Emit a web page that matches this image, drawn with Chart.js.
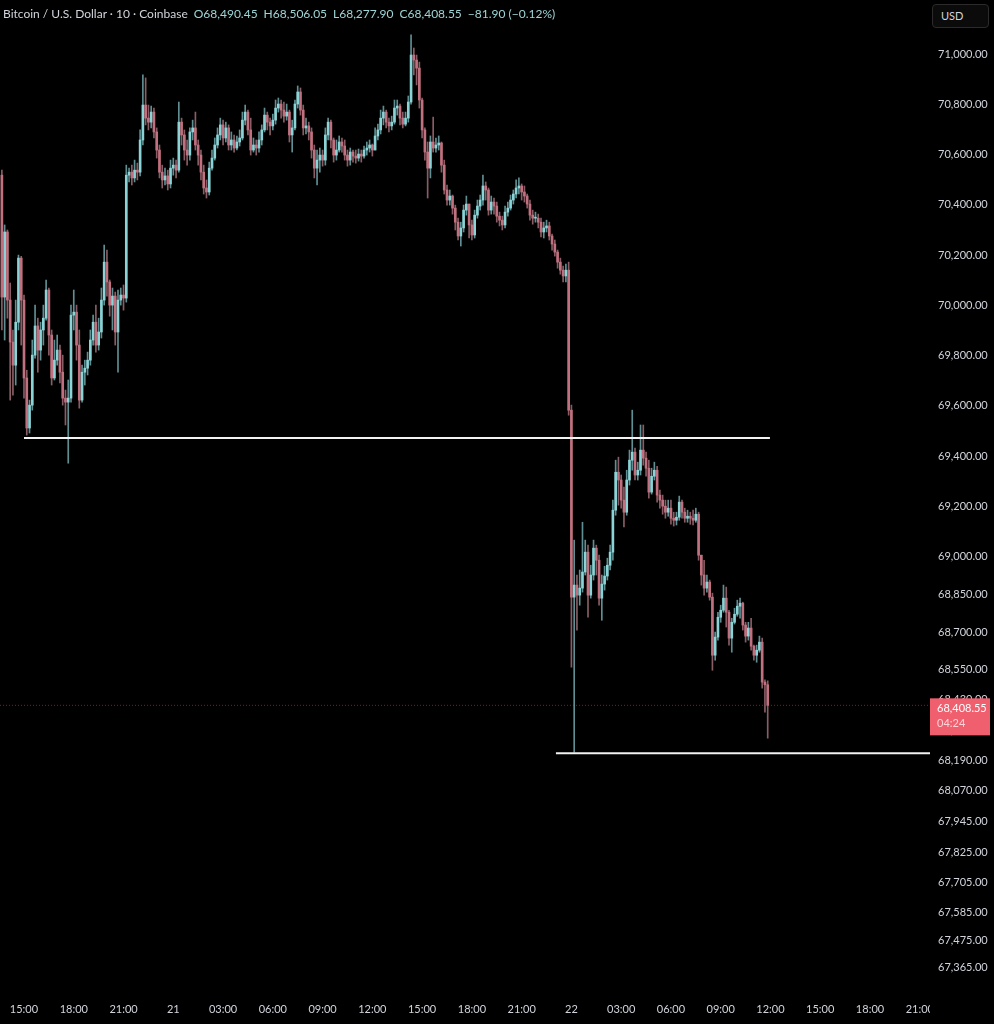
<!DOCTYPE html>
<html>
<head>
<meta charset="utf-8">
<title>BTCUSD 10m</title>
<script src="https://cdn.jsdelivr.net/npm/chart.js@4.4.1/dist/chart.umd.min.js"></script>
<style>
  html, body { margin: 0; padding: 0; background: #000; }
  #wrap { position: relative; width: 994px; height: 1024px; overflow: hidden; }
  canvas { display: block; }
  .hdr { position: absolute; top: 6px; left: 3px; display: flex; gap: 6px; font: 12px Lato, sans-serif;
         white-space: nowrap; color: #d1d4dc; }
  .hdr .v { color: #9fd4d6; }
  .usd { position: absolute; left: 932px; top: 4px; width: 57px; height: 24px; box-sizing: border-box;
         border: 1px solid #2b2b2b; border-radius: 4px; background: #0b0b0b; color: #d1d4dc;
         font: 11px Lato, sans-serif; line-height: 22px; padding-left: 8px; }
</style>
</head>
<body>
<div id="wrap">
  <canvas id="chart" width="994" height="1024"></canvas>
  <div class="hdr">
    <span>Bitcoin / U.S. Dollar · 10 · Coinbase</span>
    <span class="v">O68,490.45</span>
    <span class="v">H68,506.05</span>
    <span class="v">L68,277.90</span>
    <span class="v">C68,408.55</span>
    <span class="v">−81.90 (−0.12%)</span>
  </div>
  <div class="usd">USD</div>
</div>
<script>
// --- DATA | 10 min candles, 20th 13:40 -> 22nd 11:50 --- //
const firstOpen = 70518;

const closes = [
  70033, 70292, 70021, 69854, 69762, 69933, 70188, 70021, 69711, 69512,
  69603, 69802, 69918, 69822, 69902, 69949, 70061, 69882, 69711, 69782,
  69822, 69734, 69631, 69615, 69631, 69961, 69973, 69842, 69623, 69734,
  69750, 69782, 69862, 69933, 69842, 69894, 70021, 70172, 70093, 70001,
  70037, 69894, 70021, 70041, 70029, 70518, 70530, 70507, 70538, 70530,
  70658, 70797, 70745, 70729, 70769, 70690, 70618, 70530, 70499, 70515,
  70483, 70546, 70558, 70538, 70729, 70678, 70618, 70598, 70690, 70706,
  70638, 70598, 70530, 70467, 70451, 70546, 70586, 70638, 70678, 70718,
  70666, 70706, 70638, 70658, 70626, 70650, 70666, 70737, 70769, 70698,
  70618, 70638, 70626, 70658, 70698, 70757, 70729, 70714, 70737, 70785,
  70801, 70777, 70753, 70769, 70678, 70706, 70801, 70849, 70777, 70706,
  70714, 70690, 70618, 70546, 70578, 70598, 70578, 70678, 70729, 70658,
  70598, 70618, 70650, 70634, 70598, 70578, 70610, 70594, 70586, 70602,
  70594, 70618, 70626, 70638, 70618, 70674, 70698, 70745, 70769, 70729,
  70714, 70729, 70785, 70793, 70745, 70721, 70745, 70809, 70996, 70976,
  70944, 70817, 70698, 70610, 70546, 70650, 70626, 70638, 70646, 70558,
  70459, 70419, 70435, 70387, 70331, 70276, 70308, 70379, 70403, 70320,
  70280, 70359, 70395, 70419, 70475, 70459, 70379, 70411, 70395, 70355,
  70339, 70320, 70371, 70387, 70419, 70443, 70467, 70475, 70451, 70435,
  70403, 70359, 70347, 70347, 70331, 70292, 70308, 70316, 70276, 70244,
  70212, 70172, 70140, 70117, 70140, 69583, 68839, 68887, 68847, 68875,
  68939, 69018, 68847, 68927, 69034, 68986, 68835, 68891, 68923, 68966,
  69018, 69185, 69336, 69305, 69225, 69177, 69305, 69384, 69416, 69325,
  69344, 69424, 69392, 69352, 69257, 69320, 69344, 69245, 69225, 69201,
  69177, 69193, 69153, 69145, 69157, 69217, 69177, 69153, 69161, 69153,
  69145, 69169, 69006, 68927, 68875, 68899, 68839, 68608, 68680, 68759,
  68787, 68835, 68779, 68676, 68739, 68771, 68803, 68815, 68728, 68684,
  68716, 68644, 68608, 68628, 68660, 68501, 68490.45, 68408.55
];

const highs = [
  70538, 70320, 70300, 70089, 69902, 70021, 70200, 70195, 70041, 69742,
  69623, 69862, 70001, 69949, 69933, 70001, 70101, 70069, 69902, 69862,
  69882, 69842, 69802, 69663, 69703, 70001, 70061, 70001, 69902, 69762,
  69782, 69814, 69902, 69961, 70001, 69949, 70069, 70240, 70220, 70101,
  70069, 70053, 70061, 70069, 70081, 70558, 70546, 70558, 70578, 70566,
  70698, 70917, 70905, 70797, 70793, 70785, 70706, 70638, 70558, 70546,
  70538, 70578, 70586, 70578, 70809, 70745, 70698, 70658, 70706, 70737,
  70769, 70658, 70618, 70558, 70499, 70570, 70618, 70666, 70706, 70745,
  70737, 70729, 70718, 70690, 70678, 70674, 70698, 70769, 70797, 70777,
  70745, 70666, 70658, 70690, 70718, 70785, 70769, 70745, 70761, 70817,
  70825, 70817, 70809, 70801, 70777, 70737, 70817, 70873, 70865, 70797,
  70745, 70729, 70706, 70638, 70618, 70626, 70618, 70706, 70745, 70737,
  70666, 70658, 70674, 70666, 70658, 70618, 70626, 70618, 70618, 70622,
  70618, 70634, 70650, 70658, 70642, 70706, 70721, 70777, 70793, 70777,
  70745, 70753, 70817, 70817, 70801, 70769, 70769, 70833, 71076, 71024,
  70996, 70968, 70825, 70706, 70650, 70674, 70749, 70666, 70674, 70650,
  70578, 70479, 70459, 70439, 70399, 70347, 70331, 70399, 70435, 70399,
  70339, 70379, 70419, 70439, 70518, 70491, 70467, 70435, 70427, 70411,
  70371, 70355, 70395, 70411, 70439, 70459, 70499, 70507, 70483, 70475,
  70443, 70419, 70379, 70371, 70363, 70347, 70331, 70339, 70331, 70284,
  70260, 70220, 70188, 70156, 70164, 70172, 69603, 69066, 68927, 68947,
  69137, 69066, 69046, 68966, 69066, 69046, 69006, 68927, 68962, 68994,
  69046, 69225, 69384, 69396, 69325, 69277, 69344, 69424, 69583, 69432,
  69376, 69524, 69524, 69416, 69384, 69352, 69376, 69360, 69265, 69245,
  69225, 69225, 69225, 69177, 69177, 69241, 69225, 69193, 69185, 69177,
  69185, 69193, 69177, 69006, 68986, 68927, 68907, 68855, 68700, 68779,
  68807, 68887, 68879, 68787, 68755, 68795, 68827, 68835, 68819, 68739,
  68739, 68755, 68648, 68648, 68684, 68676, 68510, 68506.05
];

const lows = [
  69902, 69862, 69949, 69623, 69643, 69683, 69902, 69842, 69631, 69484,
  69492, 69583, 69790, 69734, 69782, 69842, 69941, 69802, 69683, 69703,
  69762, 69691, 69603, 69524, 69372, 69615, 69902, 69782, 69591, 69615,
  69683, 69723, 69762, 69842, 69814, 69822, 69870, 70001, 70037, 69957,
  69902, 69842, 69734, 70001, 69981, 70013, 70491, 70479, 70491, 70499,
  70515, 70638, 70718, 70698, 70706, 70666, 70586, 70507, 70467, 70479,
  70459, 70467, 70518, 70507, 70530, 70638, 70578, 70558, 70578, 70658,
  70618, 70558, 70499, 70443, 70427, 70439, 70538, 70578, 70626, 70658,
  70638, 70650, 70618, 70618, 70610, 70618, 70634, 70658, 70718, 70678,
  70598, 70610, 70598, 70610, 70638, 70690, 70698, 70678, 70698, 70721,
  70769, 70745, 70729, 70737, 70650, 70610, 70698, 70785, 70757, 70678,
  70682, 70658, 70586, 70507, 70479, 70530, 70554, 70558, 70658, 70626,
  70570, 70578, 70610, 70610, 70578, 70554, 70558, 70570, 70566, 70574,
  70570, 70586, 70598, 70610, 70594, 70618, 70658, 70682, 70718, 70706,
  70690, 70698, 70721, 70757, 70718, 70706, 70714, 70729, 70801, 70917,
  70877, 70785, 70666, 70578, 70427, 70507, 70610, 70610, 70618, 70530,
  70443, 70399, 70399, 70363, 70300, 70260, 70236, 70292, 70359, 70268,
  70260, 70268, 70347, 70379, 70399, 70419, 70359, 70363, 70363, 70331,
  70316, 70300, 70308, 70355, 70379, 70403, 70427, 70443, 70419, 70411,
  70387, 70339, 70323, 70331, 70308, 70272, 70268, 70292, 70260, 70220,
  70196, 70148, 70124, 70093, 70093, 69563, 68560, 68222, 68708, 68807,
  68859, 68927, 68759, 68835, 68907, 68927, 68807, 68747, 68867, 68907,
  68947, 68986, 69165, 69205, 69193, 69118, 69165, 69285, 69344, 69305,
  69305, 69325, 69364, 69320, 69233, 69249, 69305, 69217, 69193, 69169,
  69153, 69161, 69129, 69122, 69126, 69145, 69153, 69137, 69137, 69129,
  69126, 69137, 68986, 68887, 68847, 68859, 68827, 68548, 68588, 68668,
  68739, 68779, 68720, 68648, 68620, 68732, 68763, 68755, 68708, 68660,
  68668, 68628, 68588, 68580, 68620, 68477, 68381, 68277.90
];

// horizontal levels drawn on the chart (price, first candle, last candle)
const levelPrices = [69472, 68218];
const levelFrom = [8, 200.4];
const levelTo = [277.8, 335.7];

// price scale labels and time scale labels
const yTicks = [71000, 70800, 70600, 70400, 70200, 70000, 69800, 69600, 69400, 69200, 69000,
  68850, 68700, 68550, 68430, 68310, 68190, 68070, 67945, 67825, 67705, 67585, 67475, 67365];
const xTickLabels = ['15:00', '18:00', '21:00', '21', '03:00', '06:00', '09:00', '12:00', '15:00',
  '18:00', '21:00', '22', '03:00', '06:00', '09:00', '12:00', '15:00', '18:00', '21:00'];
const firstTickCandle = 8;   // 15:00 on the 20th
const candlesPerTick = 18;   // 3 hours of 10 min candles
const countdown = '04:24';

// --- BUILD CANDLES --- //
const opens = closes.map((c, i) => (i === 0 ? firstOpen : closes[i - 1]));
const isUp = closes.map((c, i) => c >= opens[i]);

const bodyData = closes.map((c, i) => ({ x: i, y: [opens[i], c] }));
const wickData = closes.map((c, i) => ({
  x: i,
  y: [Math.min(lows[i], opens[i], c), Math.max(highs[i], opens[i], c)]
}));

const upColor = '#8ad3d6';
const downColor = '#c0707e';
const upWick = '#5f8f93';
const downWick = '#8a5d66';

const xMin = -0.68;
const xMax = 335.7;
const lastClose = closes[closes.length - 1];
const fmt = v => v.toLocaleString('en-US', { minimumFractionDigits: 2, maximumFractionDigits: 2 });
const axisFont = { family: 'Lato', size: 11 };

const levelSets = levelPrices.map((p, k) => ({
  type: 'line',
  data: [{ x: levelFrom[k], y: p }, { x: levelTo[k], y: p }],
  borderColor: '#f2f2f2',
  borderWidth: 2,
  pointRadius: 0,
  order: 0
}));

// --- PRICE TAG | RIGHT SCALE --- //
const priceTag = {
  id: 'priceTag',
  afterDraw(chart) {
    const { ctx, chartArea, scales } = chart;
    const y = scales.y.getPixelForValue(lastClose);
    ctx.save();
    // hide the time label that runs under the price scale
    ctx.fillStyle = '#000';
    ctx.fillRect(chartArea.right, chartArea.bottom, chart.width - chartArea.right, chart.height - chartArea.bottom);
    ctx.fillStyle = '#ef5f6e';
    ctx.fillRect(chartArea.right, y - 7, 60, 37);
    ctx.font = '11px Lato';
    ctx.textBaseline = 'middle';
    ctx.fillStyle = '#ffffff';
    ctx.fillText(fmt(lastClose), chartArea.right + 7, y + 3);
    ctx.fillStyle = '#ffd2d7';
    ctx.fillText(countdown, chartArea.right + 7, y + 18);
    ctx.restore();
  }
};

// axis sizes fixed so the plot fills the canvas like the trading view
const noPad = axis => {
  axis.paddingTop = 0;
  axis.paddingBottom = 0;
  axis.paddingLeft = 0;
  axis.paddingRight = 0;
};

new Chart(document.getElementById('chart'), {
  type: 'bar',
  data: {
    datasets: [
      ...levelSets,
      {
        type: 'line',
        data: [{ x: xMin, y: lastClose }, { x: xMax, y: lastClose }],
        borderColor: '#6a2630',
        borderWidth: 1,
        borderDash: [1, 2],
        pointRadius: 0,
        order: 3
      },
      {
        label: 'body',
        data: bodyData,
        backgroundColor: isUp.map(u => (u ? upColor : downColor)),
        barThickness: 2,
        minBarLength: 1,
        grouped: false,
        order: 1
      },
      {
        label: 'wick',
        data: wickData,
        backgroundColor: isUp.map(u => (u ? upWick : downWick)),
        barThickness: 1,
        grouped: false,
        order: 2
      }
    ]
  },
  options: {
    responsive: false,
    animation: false,
    events: [],
    layout: { padding: 0 },
    plugins: { legend: { display: false }, tooltip: { enabled: false } },
    scales: {
      x: {
        type: 'linear',
        min: xMin,
        max: xMax,
        offset: false,
        grid: { display: false, drawTicks: false },
        border: { display: false },
        afterBuildTicks: axis => {
          axis.ticks = xTickLabels.map((_, k) => ({ value: firstTickCandle + k * candlesPerTick }));
        },
        afterFit: axis => { axis.height = 29; noPad(axis); },
        ticks: {
          autoSkip: false,
          maxRotation: 0,
          padding: 8,
          color: '#d1d4dc',
          font: axisFont,
          callback: (v, i) => xTickLabels[i]
        }
      },
      y: {
        type: 'linear',
        position: 'right',
        min: 67256,
        max: 71215,
        grid: { display: false, drawTicks: false },
        border: { display: false },
        afterBuildTicks: axis => { axis.ticks = yTicks.map(v => ({ value: v })); },
        afterFit: axis => { axis.width = 64; noPad(axis); },
        ticks: {
          autoSkip: false,
          padding: 8,
          color: '#d1d4dc',
          font: axisFont,
          callback: v => fmt(v)
        }
      }
    }
  },
  plugins: [priceTag]
});
</script>
</body>
</html>
